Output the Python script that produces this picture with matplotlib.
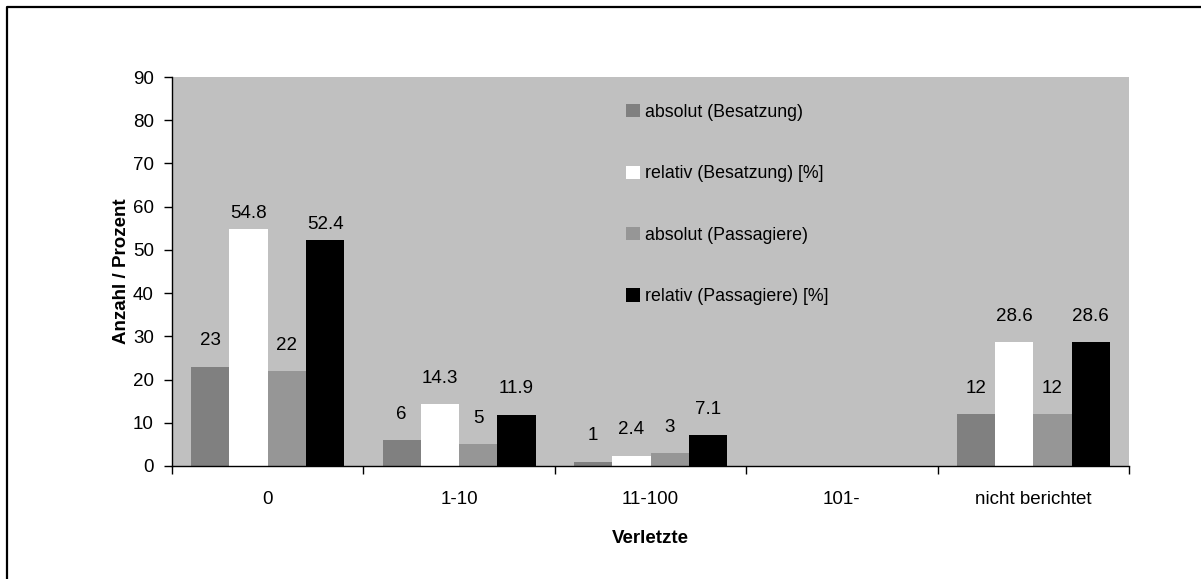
import matplotlib
matplotlib.use("Agg")
import matplotlib.pyplot as plt
from matplotlib.lines import Line2D
from matplotlib import font_manager
import numpy as np

categories = ["0", "1-10", "11-100", "101-", "nicht berichtet"]
series_names = ["absolut (Besatzung)", "relativ (Besatzung) [%]",
                "absolut (Passagiere)", "relativ (Passagiere) [%]"]
abs_crew = [23, 6, 1, None, 12]
rel_crew = [54.8, 14.3, 2.4, None, 28.6]
abs_pass = [22, 5, 3, None, 12]
rel_pass = [52.4, 11.9, 7.1, None, 28.6]
y_ticks = [0, 10, 20, 30, 40, 50, 60, 70, 80, 90]

series = [abs_crew, rel_crew, abs_pass, rel_pass]
colors = ["#808080", "#ffffff", "#969696", "#000000"]

# prefer a condensed face when one is available
installed = {f.name for f in font_manager.fontManager.ttflist}
if "Liberation Sans Narrow" in installed:
    plt.rcParams['font.family'] = ['Liberation Sans Narrow', 'DejaVu Sans']
    fs, fs_leg = 15.5, 15.2
else:
    plt.rcParams['font.family'] = ['Liberation Sans', 'DejaVu Sans']
    fs, fs_leg = 13.5, 12.8

W, H = 1201, 579
fig = plt.figure(figsize=(W / 100, H / 100), dpi=100)
ax = fig.add_axes([172 / W, 1 - 466 / H, (1129 - 172) / W, (466 - 77) / H])
ax.set_facecolor("#c0c0c0")

x = np.arange(len(categories))
bw = 0.2
offsets = [-0.3, -0.1, 0.1, 0.3]

for vals, col, off, name in zip(series, colors, offsets, series_names):
    pos = [xi + off for xi, v in zip(x, vals) if v is not None]
    hts = [v for v in vals if v is not None]
    ax.bar(pos, hts, width=bw, color=col, edgecolor="none", label=name, zorder=2)
    for p, v in zip(pos, hts):
        pad = 5 if v > 50 else 12.5
        ax.annotate(f"{v:g}", (p, v), xytext=(0, pad), textcoords="offset points",
                    ha="center", va="bottom", fontsize=fs)

ax.set_xlim(-0.5, len(categories) - 0.5)
ax.set_ylim(0, 90)
ax.set_yticks(y_ticks)
ax.set_yticklabels([str(t) for t in y_ticks], fontsize=fs)
ax.set_xticks(x)
ax.set_xticklabels(categories, fontsize=fs)
ax.set_xticks(np.arange(len(categories) + 1) - 0.5, minor=True)
ax.tick_params(axis="x", which="major", length=0, pad=18)
ax.tick_params(axis="x", which="minor", length=6, width=1, color="black", direction="out")
ax.tick_params(axis="y", length=6, width=1, direction="out", pad=7)

for s in ["top", "right"]:
    ax.spines[s].set_visible(False)
for s in ["left", "bottom"]:
    ax.spines[s].set_color("black")
    ax.spines[s].set_linewidth(1)

ax.set_xlabel("Verletzte", fontsize=fs, fontweight="bold", labelpad=16)
ax.set_ylabel("Anzahl / Prozent", fontsize=fs, fontweight="bold", labelpad=2)

ax.legend(loc="upper left", bbox_to_anchor=(626 / W, 1 - 104 / H),
          bbox_transform=fig.transFigure, frameon=False, fontsize=fs_leg,
          handlelength=0.78, handleheight=0.78, handletextpad=0.3,
          labelspacing=2.5, borderaxespad=0, borderpad=0)

# frame lines along the top and left edges of the figure
xl = 7 / W
yt = 1 - 7 / H
fig.add_artist(Line2D([xl, xl, 1.0], [0.0, yt, yt], color="black",
                      linewidth=1.6, transform=fig.transFigure))

fig.savefig("out.png", dpi=100)
